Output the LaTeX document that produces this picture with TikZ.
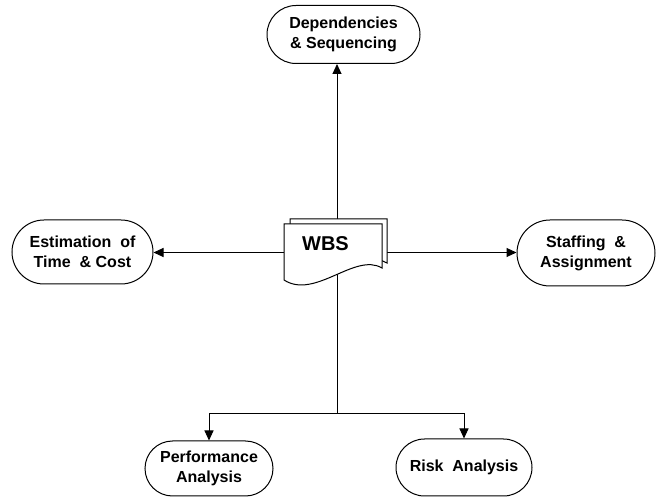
\documentclass[tikz,border=0pt]{standalone}
\usepackage{fontspec}
\setmainfont{Liberation Sans}
\usetikzlibrary{shapes.misc,arrows.meta}
\begin{document}
\begin{tikzpicture}[x=1pt,y=-1pt,
  term/.style={rounded rectangle, draw, line width=1pt, fill=white,
    inner sep=0pt, align=center,
    font=\fontsize{16}{20}\selectfont\bfseries},
  link/.style={line width=1pt},
  arrowlink/.style={link, -{Triangle[length=10pt,width=9pt]}},
  sheet/.style={draw, line width=1pt, fill=white}]
\useasboundingbox (0,0) rectangle (657,497);

% surrounding activities
\node[term, minimum width=153pt, minimum height=58pt] (dep) at (343.5,34.5) {Dependencies\\\& Sequencing};
\node[term, minimum width=141pt, minimum height=64pt] (est) at (82.5,252) {Estimation\ \ of\\Time\ \ \& Cost};
\node[term, minimum width=138pt, minimum height=66pt] (staff) at (586,253) {Staffing\ \ \&\\Assignment};
\node[term, minimum width=128pt, minimum height=55pt] (perf) at (209,468.5) {Performance\\Analysis};
\node[term, minimum width=136pt, minimum height=57pt] (risk) at (464,467.5) {Risk\ \ Analysis};

% connectors from the work breakdown structure
\coordinate (hub) at (337,252.5);
\coordinate (split) at (337,414);
\draw[arrowlink] (hub) -- (hub |- dep.south);
\draw[arrowlink] (hub) -- (est.east |- hub);
\draw[arrowlink] (hub) -- (staff.west |- hub);
\draw[link] (hub) -- (split);
\draw[arrowlink] (split) -| (perf.north);
\draw[arrowlink] (split) -| (risk.north);

% stacked document symbol
\draw[sheet, shift={(6,-5)}] (284,224) -- (381,224) -- (381,268)
  .. controls (355,252) and (315,300) .. (284,280) -- cycle;
\draw[sheet] (284,224) -- (382,224) -- (382,268)
  .. controls (355,252) and (315,300) .. (284,280) -- cycle;
\node[font=\fontsize{20}{24}\selectfont\bfseries] (wbs) at (325.5,244) {WBS};
\end{tikzpicture}
\end{document}
